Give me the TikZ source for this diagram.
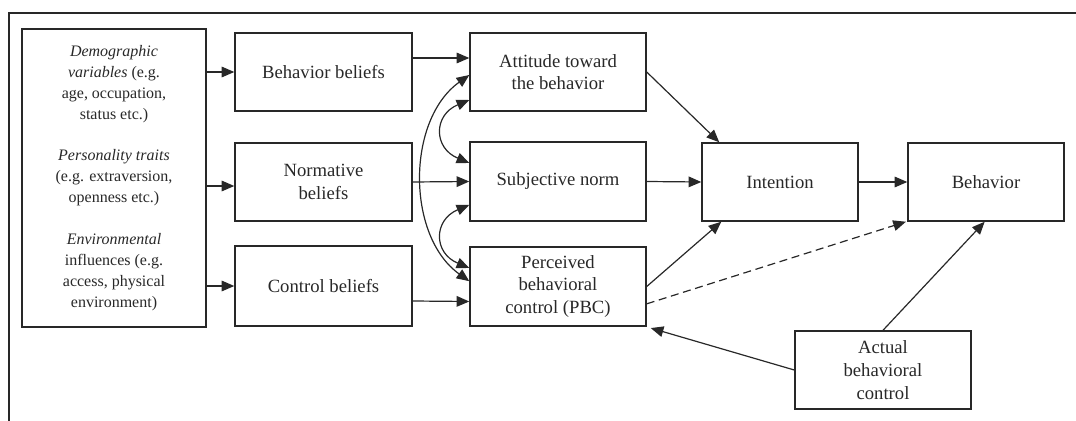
\documentclass[tikz,border=0pt]{standalone}
\usepackage{fontspec}
\setmainfont{Liberation Serif}
\usetikzlibrary{arrows.meta}
\definecolor{ink}{RGB}{40,40,40}
\begin{document}
\begin{tikzpicture}[x=0.75pt,y=-0.75pt,
  box/.style={draw=ink,line width=1.1pt,inner sep=0pt,align=center,text=ink,
    font=\fontsize{14}{17}\selectfont},
  tip/.tip={Triangle[length=9.5pt,width=8pt]},
  arr/.style={draw=ink,line width=0.9pt,-tip},
  darr/.style={draw=ink,line width=0.9pt,tip-tip},
  dash arr/.style={arr,dash pattern=on 6pt off 3.5pt}]
\useasboundingbox (0,0) rectangle (1076,421);
% frame
\draw[ink,line width=1.1pt] (9,421) -- (9,13) -- (1076,13);
% nodes
\node[box,minimum width=138pt,minimum height=223.5pt,font=\fontsize{12}{15.7}\selectfont] (L) at (114,178)
  {\textit{Demographic}\\ \textit{variables} (e.g.\\ age, occupation,\\ status etc.)\\[15.7pt]
   \textit{Personality traits}\\ (e.g. extraversion,\\ openness etc.)\\[15.7pt]
   \textit{Environmental}\\ influences (e.g.\\ access, physical\\ environment)};
\node[box,minimum width=132.75pt,minimum height=58.5pt] (BB) at (323.5,72) {Behavior beliefs};
\node[box,minimum width=132.75pt,minimum height=58.5pt] (NB) at (323.5,182) {Normative\\ beliefs};
\node[box,minimum width=132.75pt,minimum height=60pt] (CB) at (323.5,286) {Control beliefs};
\node[box,minimum width=132pt,minimum height=58.5pt] (AT) at (558,72) {Attitude toward\\ the behavior};
\node[box,minimum width=132pt,minimum height=59.25pt] (SN) at (558,181.5) {Subjective norm};
\node[box,minimum width=132pt,minimum height=59.25pt] (PBC) at (558,286.5) {Perceived\\ behavioral\\ control (PBC)};
\node[box,minimum width=117pt,minimum height=58.5pt] (IN) at (780,182) {Intention};
\node[box,minimum width=117pt,minimum height=58.5pt] (BE) at (986,182) {Behavior};
\node[box,minimum width=132pt,minimum height=58.5pt] (AC) at (883,370) {Actual\\ behavioral\\ control};
% connectors
\draw[arr] (L.east |- BB.west) -- (BB.west);
\draw[arr] ([yshift=-3pt]L.east |- NB.west) -- ([yshift=-3pt]NB.west);
\draw[arr] (L.east |- CB.west) -- (CB.west);
\draw[arr] ([yshift=10.5pt]BB.east) -- ([yshift=10.5pt]AT.west);
\draw[arr] (NB.east) -- (SN.west);
\draw[arr] ([yshift=-11.25pt]CB.east) -- ([yshift=-11.25pt]PBC.west);
\draw[darr] ([yshift=-2.25pt]AT.west) .. controls +(-63,45) and +(-63,-45) .. ([yshift=4pt]PBC.west);
\draw[darr] ([yshift=-21pt]AT.west) .. controls +(-36,15) and +(-36,-15) .. ([yshift=13.9pt]SN.west);
\draw[darr] ([yshift=-17.6pt]SN.west) .. controls +(-36,15) and +(-36,-15) .. ([yshift=13.9pt]PBC.west);
\draw[arr] (AT.east) -- ([xshift=13.5pt]IN.north west);
\draw[arr] (SN.east) -- (IN.west);
\draw[arr] (PBC.east) -- ([xshift=15pt]IN.south west);
\draw[arr] (IN.east) -- (BE.west);
\draw[dash arr] ([yshift=-13pt]PBC.east) -- ([xshift=-1pt]BE.south west);
\draw[arr] (AC.north) -- ([xshift=-1pt]BE.south);
\draw[arr] (AC.west) -- ([xshift=3pt,yshift=-1pt]PBC.south east);
\end{tikzpicture}
\end{document}
